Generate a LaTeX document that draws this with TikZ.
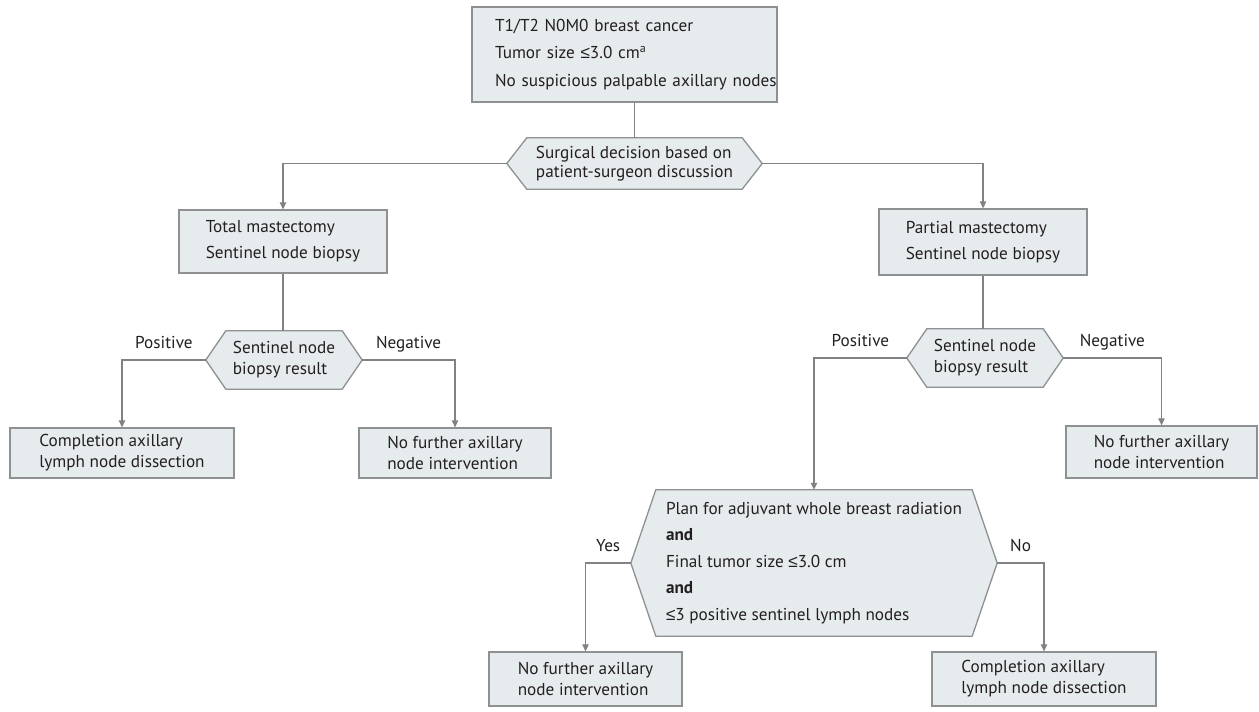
\documentclass[tikz,border=0pt]{standalone}
\usepackage{fontspec}
\setmainfont{PT Sans}
\newfontfamily\symfont{Liberation Sans}
\newcommand{\lesym}{{\symfont ≤}}
\usetikzlibrary{arrows.meta,backgrounds}
\definecolor{boxfill}{HTML}{E6EBEE}
\definecolor{boxline}{HTML}{8E9092}
\definecolor{arrowc}{HTML}{808285}
\definecolor{txt}{HTML}{231F20}
\newcommand{\fs}{17.2pt}
\tikzset{
  box/.style={draw=boxline, fill=boxfill, line width=1.3pt, inner sep=0pt, text=txt,
    font=\fontsize{\fs}{26pt}\selectfont, align=left},
  hexin/.style={inner sep=0pt, text=txt, font=\fontsize{\fs}{21pt}\selectfont, align=left},
  hexshape/.style={draw=boxline, fill=boxfill, line width=1.3pt, line join=miter},
  conn/.style={draw=arrowc, line width=1.2pt},
  arr/.style={conn, -{Triangle[length=7pt,width=6.5pt]}},
  lbl/.style={text=txt, font=\fontsize{\fs}{21pt}\selectfont, anchor=base, yshift=11.5pt, inner sep=0pt}
}
\newcommand{\hexbg}[2]{%
  \begin{scope}[on background layer]
    \path[hexshape] (#1.north west) -- (#1.north east) -- ([xshift=#2]#1.east)
      -- (#1.south east) -- (#1.south west) -- ([xshift=-#2]#1.west) -- cycle;
  \end{scope}
  \coordinate (#1L) at ([xshift=-#2]#1.west);
  \coordinate (#1R) at ([xshift=#2]#1.east);
}
\begin{document}
\begin{tikzpicture}[x=1pt,y=-1pt]
\useasboundingbox (0,0) rectangle (1259,712);

% boxes
\node[box, text width=305pt, minimum height=95pt,
  font=\fontsize{\fs}{27.5pt}\selectfont] (top) at (624.5,54.5)
  {\hspace*{23pt}T1/T2 N0M0 breast cancer\\\hspace*{23pt}Tumor size \lesym3.0 cm\textsuperscript{a}\\\hspace*{23pt}No suspicious palpable axillary nodes};

\node[hexin, minimum width=215pt, minimum height=51pt, font=\fontsize{\fs}{19.5pt}\selectfont] (hexA) at (634.5,163.5)
  {Surgical decision based on\\patient-surgeon discussion};
\hexbg{hexA}{20pt}

\node[box, minimum width=208pt, minimum height=63pt] (total) at (283,241.5)
  {Total mastectomy\\Sentinel node biopsy};
\node[box, minimum width=208pt, minimum height=66pt] (partial) at (983,242)
  {Partial mastectomy\\Sentinel node biopsy};

\node[hexin, minimum width=116pt, minimum height=58pt] (snL) at (284,360)
  {Sentinel node\\biopsy result};
\hexbg{snL}{20pt}
\node[hexin, minimum width=116pt, minimum height=58pt] (snR) at (985,358)
  {Sentinel node\\biopsy result};
\hexbg{snR}{20pt}

\node[box, minimum width=224pt, minimum height=50pt, font=\fontsize{\fs}{21pt}\selectfont] (compL) at (122,453)
  {Completion axillary\\lymph node dissection};
\node[box, minimum width=192pt, minimum height=50pt, font=\fontsize{\fs}{21pt}\selectfont] (nofL) at (455,453)
  {No further axillary\\node intervention};
\node[box, minimum width=191pt, minimum height=52pt, font=\fontsize{\fs}{21pt}\selectfont] (nofR) at (1161.5,452)
  {No further axillary\\node intervention};

\node[hexin, minimum width=316pt, minimum height=146pt, font=\fontsize{\fs}{26.5pt}\selectfont] (big) at (814,563)
  {Plan for adjuvant whole breast radiation\\\textbf{and}\\Final tumor size \lesym3.0 cm\\\textbf{and}\\\lesym3 positive sentinel lymph nodes};
\hexbg{big}{25pt}

\node[box, minimum width=193pt, minimum height=54pt, font=\fontsize{\fs}{21pt}\selectfont] (nofB) at (585.5,679)
  {No further axillary\\node intervention};
\node[box, minimum width=224pt, minimum height=54pt, font=\fontsize{\fs}{21pt}\selectfont] (compB) at (1044,679)
  {Completion axillary\\lymph node dissection};

% connectors
\draw[conn] (hexA.north |- top.south) -- (hexA.north);
\draw[arr] (hexAL) -| (total.north);
\draw[arr] (hexAR) -| (partial.north);
\draw[conn] (total.south) -- (total.south |- snL.north);
\draw[conn] (partial.south) -- (partial.south |- snR.north);
\draw[arr] (snLL) -| node[lbl, pos=0.25] {Positive} (compL.north);
\draw[arr] (snLR) -| node[lbl, pos=0.25] {Negative} (nofL.north);
\draw[arr] (snRL) -| node[lbl, pos=0.25] {Positive} (big.north);
\draw[arr] (snRR) -| node[lbl, pos=0.25] {Negative} (nofR.north);
\draw[arr] (bigL) -| node[lbl, pos=0.25] {Yes} (nofB.north);
\draw[arr] (bigR) -| node[lbl, pos=0.25] {No} (compB.north);
\end{tikzpicture}
\end{document}
